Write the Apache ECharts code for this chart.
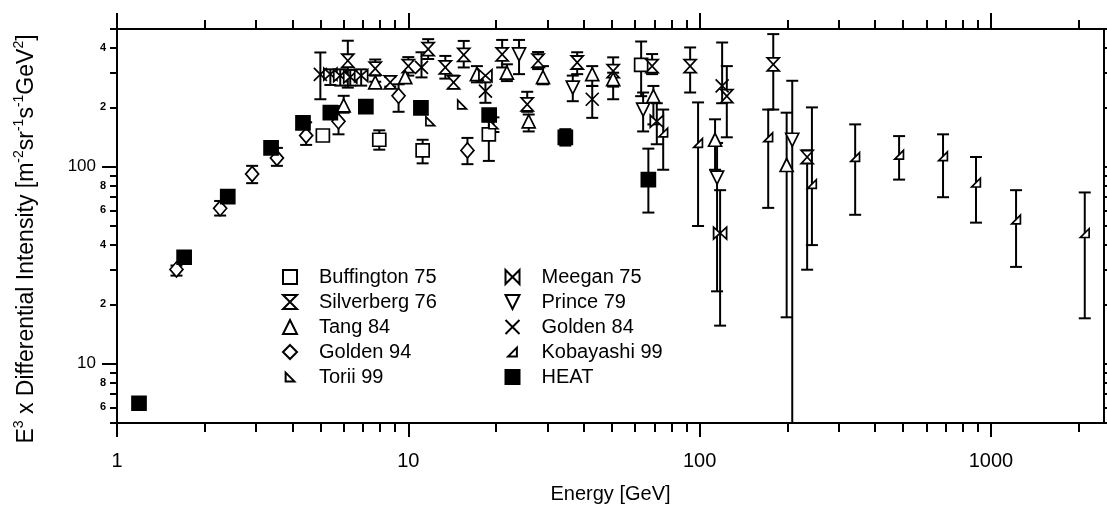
<!DOCTYPE html>
<html><head><meta charset="utf-8">
<script src="https://cdn.jsdelivr.net/npm/echarts@6/dist/echarts.min.js"></script>
<style>html,body{margin:0;padding:0;background:#fff}#c{width:1107px;height:505px}</style>
</head><body><div id="c"></div>
<script>
// Each point: [energy GeV, E^3 x intensity, error low, error high]
const buffington75 = [[5.09,144,null,null],[7.95,137,122,153],[11.2,121,104,137],[18.9,146,107,170],[63.0,329,228,432]];
const silverberg76 = [[6.2,345,252,436],[7.7,315,270,350],[8.67,268,255,285],[10.0,324,290,360],[11.7,395,352,444],[13.4,319,280,365],[14.3,268,250,290],[15.5,370,319,435],[21.0,372,319,440],[25.6,207,190,240],[27.9,345,313,382],[38.0,338,295,381],[50.5,306,220,359],[68.7,324,295,373],[92.8,324,238,403],[124,228,141,324],[179,331,195,471],[234,112,30,121]];
const tang84 = [[6.0,205,188,229],[7.7,268,255,290],[9.76,285,null,null],[17.2,295,268,324],[21.8,300,272,331],[25.9,170,151,184],[29.0,285,262,324],[42.8,295,257,324],[50.5,278,255,300],[69.4,228,164,257],[113,137,96.5,174],[199,102,17.2,188]];
const golden94 = [[1.60,30.1,28,31.5],[2.26,61.5,56.5,67],[2.91,91.8,82.5,101],[3.54,110.7,101,124.6],[4.46,144,129,168],[5.76,170,146,203],[9.26,229,190,262],[15.96,121,103,140]];
const torii99 = [[11.9,170,null,null],[15.3,207,null,null],[19.6,164,150,178]];
const meegan75 = [[5.4,295,260,312],[5.84,290,258,312],[6.32,285,258,310],[6.89,290,258,312],[18.4,290,null,null],[71.3,170,130,210],[117.6,46,15.6,76]];
const prince79 = [[24.0,372,295,440],[36.7,252,215,290],[64,195,151,238],[114.8,88,23.3,132],[208,137,4,273]];
const golden84 = [[4.99,294,220,380],[11.1,319,284,381],[18.4,242,211,268],[42.8,220,177,257],[119.5,257,210,427]];
const kobayashi99 = [[75,149,96.5,195],[98.8,132,50,212],[172,141,61.8,195],[243,81.6,40,200],[342,112,57,164],[484,115,86,143],[685,113,70,146],[889,83,52,112],[1220,54,31,76],[2100,46,17,74]];
const heat = [[1.19,6.3,null,null],[1.70,34.7,null,null],[2.40,70.5,null,null],[3.38,124.5,null,null],[4.35,167,null,null],[5.40,188,null,null],[7.15,202,null,null],[11.05,199,null,null],[18.95,183,null,null],[34.6,141,128,155],[66.7,86,58.5,123.5]];

const xMin = 1, xMax = 2445, yMin = 5, yMax = 500;
const xMajorTicks = [1, 10, 100, 1000];
const xMinorTicks = [2,3,4,5,6,7,8,9,20,30,40,50,60,70,80,90,200,300,400,500,600,700,800,900,2000];
const yMajorTicks = [10, 100];
const yMinorTicks = [5,6,7,8,9,20,30,40,50,60,70,80,90,200,300,400,500];
const yMinorLabels = [6,8,20,40,60,80,200,400];
const yAllTicks = [5,6,7,8,9,10,20,30,40,50,60,70,80,90,100,200,300,400,500];

const FONT = 'Liberation Sans, Arial, sans-serif';
const BLACK = '#000';

// small right-triangle glyphs are padded (extra move points) so they stay small inside the legend box
const seriesDefs = [
  {name:'Buffington 75', data:buffington75, symbol:'rect', size:13, fill:'#fff'},
  {name:'Silverberg 76', data:silverberg76, symbol:'path://M0,0L10,0L0,10L10,10Z', size:[12,13], fill:'#fff'},
  {name:'Tang 84', data:tang84, symbol:'triangle', size:[13,13], fill:'#fff'},
  {name:'Golden 94', data:golden94, symbol:'diamond', size:[13,15], fill:'#fff'},
  {name:'Torii 99', data:torii99, symbol:'path://M-3,-3M13,13M0,0L0,10L10,10Z', size:[14,14], fill:'#fff'},
  {name:'Meegan 75', data:meegan75, symbol:'path://M0,0L0,10L10,0L10,10Z', size:[13,12], fill:'#fff'},
  {name:'Prince 79', data:prince79, symbol:'path://M0,0L10,0L5,10Z', size:[13,13], fill:'#fff'},
  {name:'Golden 84', data:golden84, symbol:'path://M0,0L10,10M10,0L0,10', size:[13,13], fill:'none'},
  {name:'Kobayashi 99', data:kobayashi99, symbol:'path://M-3,-3M13,13M10,0L10,10L0,10Z', size:[14,14], fill:'#fff'},
  {name:'HEAT', data:heat, symbol:'rect', size:14, fill:'#000'}
];

function errorSeries(def) {
  return {
    type: 'custom',
    name: def.name + ' errors',
    xAxisIndex: 0, yAxisIndex: 0,
    silent: true,
    z: 1,
    data: def.data.filter(d => d[2] != null).map(d => [d[0], d[2], d[3]]),
    encode: {x: 0, y: [1, 2]},
    renderItem: function (params, api) {
      const x = api.value(0);
      const loV = api.value(1), hiV = api.value(2);
      const lo = api.coord([x, Math.max(loV, yMin)]);
      const hi = api.coord([x, Math.min(hiV, yMax)]);
      const w = 6;
      const st = {stroke: BLACK, lineWidth: 2};
      const children = [
        {type:'line', shape:{x1:lo[0], y1:lo[1], x2:hi[0], y2:hi[1]}, style:st}
      ];
      if (hiV <= yMax) children.push({type:'line', shape:{x1:hi[0]-w, y1:hi[1], x2:hi[0]+w, y2:hi[1]}, style:st});
      if (loV >= yMin) children.push({type:'line', shape:{x1:lo[0]-w, y1:lo[1], x2:lo[0]+w, y2:lo[1]}, style:st});
      return {type:'group', children: children};
    }
  };
}

function scatterSeries(def) {
  return {
    type: 'scatter',
    name: def.name,
    xAxisIndex: 0, yAxisIndex: 0,
    z: 3,
    symbol: def.symbol,
    symbolSize: def.size,
    symbolKeepAspect: false,
    data: def.data.map(d => [d[0], d[1]]),
    itemStyle: {color: def.fill, borderColor: BLACK, borderWidth: 1.7, opacity: 1},
    emphasis: {disabled: true}
  };
}

const series = [];
seriesDefs.forEach(d => series.push(errorSeries(d)));
seriesDefs.forEach(d => series.push(scatterSeries(d)));

function xAx(pos, ticks, len, labels, showLine) {
  return {
    type: 'log', logBase: 10, min: xMin, max: xMax, position: pos,
    gridIndex: 0,
    axisLine: {show: showLine, onZero: false, lineStyle: {color: BLACK, width: 2}},
    axisTick: {show: true, inside: false, length: len, customValues: ticks, lineStyle: {color: BLACK, width: 2}},
    axisLabel: labels ? {show: true, customValues: labels, margin: 28, fontSize: 20, color: BLACK, fontFamily: FONT,
      formatter: v => String(Math.round(v))} : {show: false},
    splitLine: {show: false}, minorTick: {show: false}
  };
}
function yAx(pos, ticks, len, labels, showLine, labelCfg) {
  return {
    type: 'log', logBase: 10, min: yMin, max: yMax, position: pos,
    gridIndex: 0,
    axisLine: {show: showLine, onZero: false, lineStyle: {color: BLACK, width: 2}},
    axisTick: {show: true, inside: false, length: len, customValues: ticks, lineStyle: {color: BLACK, width: 2}},
    axisLabel: labels ? Object.assign({show: true, customValues: labels, color: BLACK, fontFamily: FONT}, labelCfg) : {show: false},
    splitLine: {show: false}, minorTick: {show: false}
  };
}

const xAxes = [
  Object.assign(xAx('bottom', xMajorTicks, 14, xMajorTicks, true), {
    name: 'Energy [GeV]', nameLocation: 'middle', nameGap: 61,
    nameTextStyle: {fontSize: 20, color: BLACK, fontFamily: FONT}
  }),
  xAx('bottom', xMinorTicks, 9, null, false),
  xAx('top', xMajorTicks, 16, null, true),
  xAx('top', xMinorTicks, 9, null, false)
];

const yAxes = [
  Object.assign(yAx('left', yMajorTicks, 15, yMajorTicks, true, {fontSize: 17, margin: 21, formatter: v => String(Math.round(v))}), {
    name: '{n|E}{s|3}{n| x Differential Intensity [m}{s|-2}{n|sr}{s|-1}{n|s}{s|-1}{n|GeV}{s|2}{n|]}',
    nameLocation: 'middle', nameGap: 79,
    nameTextStyle: {
      color: BLACK, fontFamily: FONT, fontSize: 23, padding: [0, 26, 0, 0],
      rich: {
        n: {fontSize: 23, fontFamily: FONT, color: BLACK, lineHeight: 26, verticalAlign: 'bottom'},
        s: {fontSize: 14, fontFamily: FONT, color: BLACK, lineHeight: 26, verticalAlign: 'top'}
      }
    }
  }),
  yAx('left', yMinorTicks, 7, yMinorLabels, false, {fontSize: 11, fontWeight: 'bold', margin: 11,
    formatter: v => String(Math.round(v / Math.pow(10, Math.floor(Math.log10(v) + 1e-9))))}),
  yAx('right', yAllTicks, 5, null, true, null)
];

const legendCommon = {
  orient: 'vertical', itemWidth: 14, itemHeight: 14, itemGap: 5,
  selectedMode: false,
  textStyle: {fontSize: 20, color: BLACK, fontFamily: FONT, padding: [0, 0, 0, 17]},
  inactiveColor: '#000'
};

const chart = echarts.init(document.getElementById('c'), null, {renderer: 'canvas'});
chart.setOption({
  animation: false,
  backgroundColor: '#fff',
  textStyle: {fontFamily: FONT},
  grid: {left: 117, right: 3, top: 29, bottom: 82, containLabel: false, outerBoundsMode: 'none'},
  xAxis: xAxes,
  yAxis: yAxes,
  legend: [
    Object.assign({left: 277, top: 262, data: ['Buffington 75','Silverberg 76','Tang 84','Golden 94','Torii 99']}, legendCommon),
    Object.assign({left: 498, top: 262, data: ['Meegan 75','Prince 79','Golden 84','Kobayashi 99','HEAT']}, legendCommon)
  ],
  series: series
});
</script>
</body></html>
